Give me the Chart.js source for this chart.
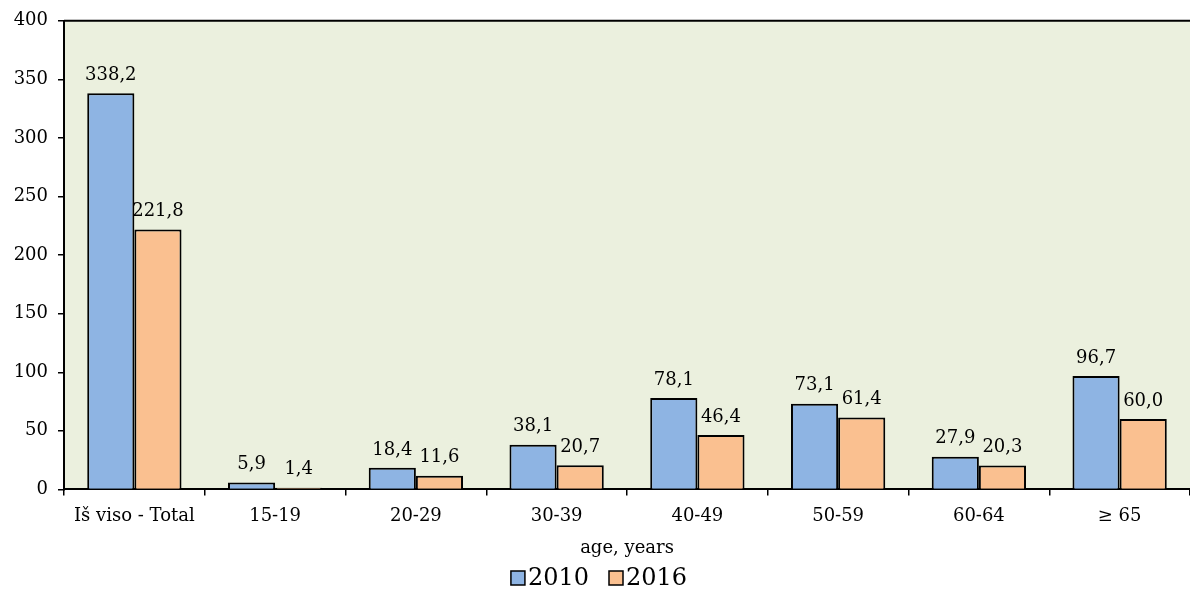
<!DOCTYPE html>
<html>
<head>
<meta charset="utf-8">
<script src="https://cdn.jsdelivr.net/npm/chart.js@4/dist/chart.umd.min.js"></script>
<style>
  html, body { margin: 0; padding: 0; background: #fff; }
  #zone { width: 1190px; height: 589px; }
</style>
</head>
<body>
<div id="zone"><canvas id="graph"></canvas></div>
<script>
// Donnees
const categories = ["Iš viso - Total", "15-19", "20-29", "30-39", "40-49", "50-59", "60-64", "≥ 65"];
const valeurs2010 = [338.2, 5.9, 18.4, 38.1, 78.1, 73.1, 27.9, 96.7];
const valeurs2016 = [221.8, 1.4, 11.6, 20.7, 46.4, 61.4, 20.3, 60.0];
const annees = ["2010", "2016"];
const graduationsY = [0, 50, 100, 150, 200, 250, 300, 350, 400];

const police = "'DejaVu Serif', serif";

// Fond vert pale de la zone de trace + trait du haut
const fondZone = {
  id: "fondZone",
  beforeDraw(chart) {
    const { ctx, chartArea: a } = chart;
    ctx.save();
    ctx.fillStyle = "#ebf0de";
    ctx.fillRect(a.left, a.top, a.right - a.left, a.bottom - a.top);
    ctx.strokeStyle = "#000";
    ctx.lineWidth = 2;
    ctx.beginPath();
    ctx.moveTo(a.left, a.top);
    ctx.lineTo(a.right, a.top);
    ctx.stroke();
    ctx.restore();
  }
};

// Etiquettes de valeurs au-dessus des barres (virgule decimale)
const etiquettes = {
  id: "etiquettes",
  afterDatasetsDraw(chart) {
    const ctx = chart.ctx;
    ctx.save();
    ctx.font = "18px " + police;
    ctx.fillStyle = "#000";
    ctx.textAlign = "center";
    ctx.textBaseline = "bottom";
    chart.data.datasets.forEach((ds, i) => {
      chart.getDatasetMeta(i).data.forEach((barre, j) => {
        const txt = ds.data[j].toFixed(1).replace(".", ",");
        ctx.fillText(txt, barre.x, barre.y - 9);
      });
    });
    ctx.restore();
  }
};

// Legende maison en bas (carre colle au texte, comme l'original)
const legende = {
  id: "legende",
  afterDraw(chart) {
    const ctx = chart.ctx;
    const y = 578;
    const cote = 14;
    ctx.save();
    ctx.font = "24px " + police;
    ctx.textBaseline = "middle";
    ctx.textAlign = "left";
    const items = chart.data.datasets.map(ds => ({ ds, w: ctx.measureText(ds.label).width }));
    const ecart = 20;
    const total = items.reduce((s, it) => s + cote + 3 + it.w, 0) + ecart * (items.length - 1);
    let x = (chart.width - total) / 2 + 4;
    items.forEach(it => {
      ctx.fillStyle = it.ds.backgroundColor;
      ctx.fillRect(x, y - cote / 2, cote, cote);
      ctx.strokeStyle = "#000";
      ctx.lineWidth = 1.5;
      ctx.strokeRect(x, y - cote / 2, cote, cote);
      ctx.fillStyle = "#000";
      ctx.fillText(it.ds.label, x + cote + 3, y + 1);
      x += cote + 3 + it.w + ecart;
    });
    ctx.restore();
  }
};

new Chart(document.getElementById("graph"), {
  type: "bar",
  data: {
    labels: categories,
    datasets: [
      { label: annees[0], data: valeurs2010, backgroundColor: "#8eb4e3", borderColor: "#000", borderWidth: 2 },
      { label: annees[1], data: valeurs2016, backgroundColor: "#fac090", borderColor: "#000", borderWidth: 2 },
    ],
  },
  options: {
    responsive: true,
    maintainAspectRatio: false,
    animation: false,
    layout: { padding: { top: 19, right: 0, left: 0, bottom: 30 } },
    datasets: { bar: { categoryPercentage: 0.67, barPercentage: 1.0 } },
    plugins: {
      legend: { display: false },
      tooltip: { enabled: false },
    },
    scales: {
      x: {
        grid: { offset: true, drawOnChartArea: false, color: "#000", tickLength: 6, lineWidth: 1.5 },
        border: { color: "#000", width: 2 },
        ticks: { font: { family: police, size: 18, lineHeight: 1.0 }, color: "#000", padding: 12 },
        title: { display: true, text: "age, years", font: { family: police, size: 18 }, color: "#000", padding: { top: 0, bottom: 0 } },
      },
      y: {
        min: 0,
        max: 400,
        afterBuildTicks: axe => { axe.ticks = graduationsY.map(v => ({ value: v })); },
        afterFit: axe => { axe.width = 64; },
        grid: { drawOnChartArea: false, color: "#000", tickLength: 6, lineWidth: 1.5 },
        border: { color: "#000", width: 2 },
        ticks: { font: { family: police, size: 18 }, color: "#000", padding: 10 },
      },
    },
  },
  plugins: [fondZone, etiquettes, legende],
});
</script>
</body>
</html>
